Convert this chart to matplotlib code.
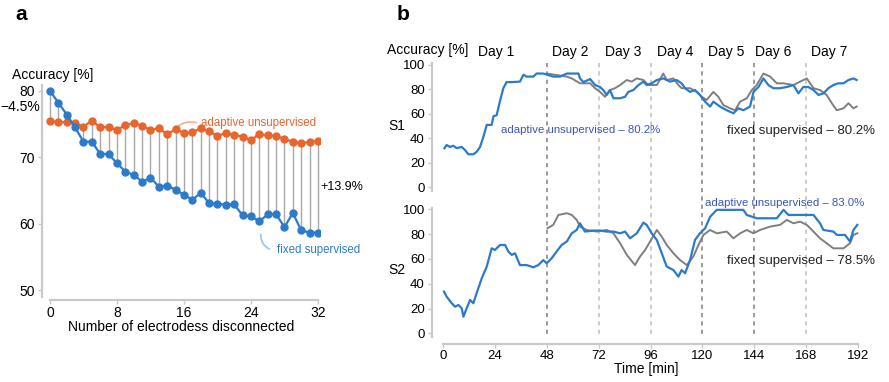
import matplotlib
matplotlib.use("Agg")
import matplotlib.pyplot as plt
from matplotlib.transforms import blended_transform_factory
from matplotlib.patches import FancyArrowPatch

plt.rcParams['font.family'] = ['Liberation Sans', 'DejaVu Sans']

# ---------------- Panel a data ----------------
electrodes = list(range(33))
adaptive_a = [75.5, 75.25, 75.35, 75.15, 74.6, 75.55, 74.5, 74.6, 74.1, 74.9, 75.1,
              74.75, 74.1, 74.4, 73.45, 74.25, 73.65, 73.75, 74.4, 73.9, 73.25,
              73.65, 73.4, 73.1, 72.6, 73.5, 73.3, 73.25, 72.75, 72.35, 72.1, 72.35, 72.5]
fixed_a = [80.0, 78.25, 76.45, 74.5, 72.35, 72.35, 70.5, 70.5, 69.1, 67.85, 67.35,
           66.35, 66.9, 65.6, 65.75, 65.1, 64.35, 63.6, 64.65, 63.1, 63.0,
           62.85, 62.9, 61.25, 61.1, 60.35, 61.4, 61.4, 59.5, 61.6, 59.0, 58.65, 58.65]
a_xticks = [0, 8, 16, 24, 32]
a_yticks = [50, 60, 70, 80]

# ---------------- Panel b data ----------------
s1_ad_t = [0.5, 1.5, 3.1, 4.6, 6.2, 8.5, 10, 11.6, 13.9, 15.4, 17, 18.5, 20.1, 22.4, 23.2,
           24.7, 26.3, 27.8, 29.3, 31.7, 35.5, 37.1, 38.6, 41.7, 43.2, 46.3, 51, 54.1,
           57.2, 62.6, 63.3, 64.9, 68, 70.3, 72.6, 74.1, 75.7, 77.2, 78.8, 81.9, 84.2,
           85.7, 88, 90.4, 92.7, 94.2, 96.5, 98.9, 101.9, 105, 108.1, 110.4, 112, 114.3,
           116.6, 118.9, 121.3, 123.6, 125.1, 128.2, 131.3, 134.4, 136.7, 139, 142.1,
           143.7, 146, 148.3, 150.6, 152.9, 156, 159.1, 162.2, 164.5, 166.8, 169.1,
           171.5, 173.8, 176.1, 178.4, 180.7, 183, 185.4, 187.7, 190, 191.5]
s1_ad_v = [31.9, 34.6, 33, 34, 32, 33, 30.5, 27, 27, 29, 33, 41, 51, 51, 58,
           59, 71, 81, 86, 86, 86.4, 92, 90.5, 90.5, 93, 93, 90.5, 90.5,
           93, 93, 89, 86, 88.5, 83.6, 82, 79.5, 75.5, 79.5, 72.8, 72.8, 74,
           78, 79.5, 83.6, 86.4, 83.6, 85, 87.7, 89, 86.4, 87.7, 85, 81, 78,
           79.5, 75.5, 70, 66, 70, 66, 63, 60.5, 64.6, 63, 66,
           78, 82, 89, 83.6, 81, 81, 82, 83.6, 76.8, 82, 82,
           79.5, 75.5, 76.8, 81, 83.6, 85, 85, 87.7, 89, 87.7]
s1_fx_t = [47.9, 57.2, 59.5, 63.3, 68, 70.3, 72.6, 74.9, 77.2, 79.5, 81.9, 85, 87.3, 89.6,
           92.7, 95, 98.9, 101.9, 103.5, 106.6, 108.9, 110.4, 114.3, 117.4, 119.7, 122,
           125.1, 127.4, 129.7, 132.8, 135.2, 137.5, 140.6, 142.9, 145.2, 148.3, 151.4,
           154.5, 157.6, 162.2, 165.3, 168.4, 171.5, 174.5, 177.6, 180, 182.3, 185.4,
           187.7, 190, 191.5]
s1_fx_v = [93, 90.5, 89, 85, 85, 81, 78, 74, 79.5, 81, 83.6, 87.7, 86.4, 89,
           87.7, 83.6, 83.6, 93, 87.7, 89, 83.6, 81, 81, 78, 74, 71.4,
           78, 74, 67.3, 64.6, 63, 70, 72.8, 79.5, 83.6, 93, 90.5,
           85, 85, 83.6, 86.4, 89, 81, 79.5, 75.5, 68.7, 63, 64.6,
           68.7, 64.6, 66]

s2_ad_t = [0.3, 1.5, 3.9, 5.4, 7, 8.5, 9.3, 10.8, 12.4, 13.9, 15.4, 17.8, 20.1, 22.4,
           23.9, 26.3, 28.6, 30.1, 31.7, 33.2, 35.5, 38.6, 41.7, 44, 46.3, 47.9, 50.2,
           52.5, 54.8, 57.2, 59.5, 61.8, 63.3, 65.6, 69.5, 72.6, 75.7, 78.8, 81.9, 84.2,
           86.5, 89.6, 92.7, 94.2, 96.5, 98.9, 101.2, 103.5, 106.6, 108.9, 110.4, 112,
           114.3, 116.6, 118.9, 121.3, 123.6, 126.7, 139, 140.6, 145.2, 154.5, 157.6,
           159.9, 171.5, 174.5, 176.1, 180.7, 182.3, 186.1, 188.4, 190, 191.8]
s2_ad_v = [33.6, 29.6, 24.2, 21.5, 22.8, 20.2, 13.4, 20.2, 26.9, 24.2, 32.3, 44.4, 53.8, 68.5,
           67.2, 71.2, 71.2, 65.9, 63.2, 64.5, 55, 55, 53.2, 55, 59, 56.5, 60.5,
           66, 71.2, 74, 80.6, 83.3, 88.7, 82, 82.8, 82.8, 82, 82, 80.6, 82,
           76.6, 80.6, 89.2, 87.4, 80.6, 75.3, 64.5, 53.8, 51, 45.7, 51, 48.4,
           59, 75.3, 80.6, 84.7, 94, 99.5, 99.5, 95.4, 92.7, 92.7, 99.5,
           95.4, 95.4, 88.7, 83.3, 82, 79.3, 79.3, 74, 83.3, 87.4]
s2_fx_t = [48.3, 50.9, 53.3, 57.2, 59.5, 61.8, 63.3, 66.4, 71.1, 75.7, 78.8, 81.9, 85,
           88.8, 91.1, 93.5, 95.8, 98.9, 101.2, 103.5, 106.6, 109.7, 112.8, 115.8,
           118.2, 120.5, 123.6, 126.7, 131.3, 134.4, 137.5, 140.6, 143.7, 146.7, 151.4,
           156, 159.1, 162.2, 165.3, 168.4, 171.5, 174.5, 177.6, 180.7, 185.4, 188.4,
           190, 191.8]
s2_fx_v = [84.7, 87.4, 95.4, 96.8, 95.4, 91.4, 86, 83.3, 82, 83.3, 80.6, 72.6, 63.2,
           55, 61.8, 67.2, 74, 83.3, 77.9, 71.2, 64.5, 59, 55, 61.8,
           71.2, 79.3, 83.3, 80.6, 82, 76.6, 80.6, 83.3, 80.6, 83.3, 86,
           87.4, 91.4, 88.7, 90, 87.4, 82, 76.6, 72.6, 68.5, 68.5, 72.6,
           79.3, 80.6]

b_xticks = [0, 24, 48, 72, 96, 120, 144, 168, 192]
b_yticks = [0, 20, 40, 60, 80, 100]
day_labels = ["Day 1", "Day 2", "Day 3", "Day 4", "Day 5", "Day 6", "Day 7"]
day_centers = [24.4, 58.7, 83.3, 107.4, 131, 153, 179]
day_bounds = [48, 72, 96, 120, 144, 168]
dark_bounds = [48, 120, 144]

ORANGE = '#e8652b'
BLUE = '#2c7bcb'
TEXTBLUE = '#3a56b8'
GRAY = '#7f7f7f'
SPINE = '#c9c9c9'
FS = 10

W, H = 889, 382
fig = plt.figure(figsize=(W / 100, H / 100), dpi=100)


def frac(x0, y0, x1, y1):
    return [x0 / W, 1 - y1 / H, (x1 - x0) / W, (y1 - y0) / H]


def style(ax):
    for s in ['top', 'right']:
        ax.spines[s].set_visible(False)
    for s in ['left', 'bottom']:
        ax.spines[s].set_color(SPINE)
        ax.spines[s].set_linewidth(1.6)
    ax.tick_params(colors=SPINE, labelcolor='black', length=3, width=1, labelsize=FS)


# ---------------- Panel a ----------------
axa = fig.add_axes(frac(41.6, 85, 320.5, 300))
style(axa)
axa.set_xlim(-1.0, 32.3)
axa.set_ylim(48.5, 80.9)
axa.spines['bottom'].set_bounds(0, 32)
axa.spines['left'].set_bounds(49.0, 80.9)
axa.vlines(electrodes, fixed_a, adaptive_a, color='#a8a8a8', lw=1.0, zorder=1)
axa.plot(electrodes, adaptive_a, '-o', color=ORANGE, ms=5, lw=1.6, zorder=3)
axa.plot(electrodes, fixed_a, '-o', color=BLUE, ms=5, lw=1.6, zorder=3)
axa.set_xticks(a_xticks)
axa.set_yticks(a_yticks)
axa.tick_params(axis='x', pad=1)
axa.tick_params(axis='y', pad=2)
axa.set_xlabel("Number of electrodess disconnected", fontsize=FS, labelpad=0)
fig.text(12 / W, 1 - 75 / H, "Accuracy [%]", fontsize=FS, va='center', ha='left')
fig.text(15 / W, 1 - 15 / H, "a", fontsize=15, fontweight='bold', va='center', ha='left')
axa.text(-1.2, adaptive_a[0] - (adaptive_a[0] - fixed_a[0]) * 0.4 + 0.3,
         "\u22124.5%", fontsize=FS, ha='right', va='center', clip_on=False)
axa.text(32.3, (adaptive_a[-1] + fixed_a[-1]) / 2, "+13.9%", fontsize=9,
         ha='left', va='center', clip_on=False)
axa.text(18.0, 75.2, "adaptive unsupervised", color=ORANGE, fontsize=8.3,
         ha='left', va='center')
axa.add_patch(FancyArrowPatch((15.0, 74.4), (17.8, 75.1), arrowstyle='-',
                              connectionstyle='arc3,rad=-0.3', color='#f2b08f', lw=1.2))
axa.text(27.1, 56.0, "fixed supervised", color=BLUE, fontsize=8.3,
         ha='left', va='center')
axa.add_patch(FancyArrowPatch((25.2, 58.8), (26.5, 56.0), arrowstyle='-',
                              connectionstyle='arc3,rad=0.4', color='#9cc3ea', lw=1.2))

# ---------------- Panel b ----------------
ax1 = fig.add_axes(frac(431.7, 61.3, 859.9, 191))
ax2 = fig.add_axes(frac(431.7, 208, 859.9, 344))
for ax in (ax1, ax2):
    style(ax)
    ax.set_facecolor('none')
    ax.set_xlim(-5.4, 193)
    ax.set_yticks(b_yticks)
    ax.tick_params(axis='y', labelsize=9.5, pad=2)
ax1.set_ylim(-3, 103)
ax2.set_ylim(-8.6, 101)
ax1.spines['bottom'].set_visible(False)
ax1.tick_params(axis='x', bottom=False, labelbottom=False)
ax1.spines['left'].set_bounds(-3, 102)
ax2.spines['left'].set_bounds(-3, 101)
ax2.spines['bottom'].set_bounds(0, 192)
ax2.set_xticks(b_xticks)
ax2.tick_params(axis='x', labelsize=9.5, pad=1)
ax2.set_xlabel("Time [min]", fontsize=FS, labelpad=0)

tr = blended_transform_factory(ax2.transData, fig.transFigure)
for b in day_bounds:
    c = '#8a8a8a' if b in dark_bounds else '#c4c4c4'
    ln = plt.Line2D([b, b], [1 - 63 / H, 1 - 336 / H], transform=tr, color=c,
                    lw=1.2, ls=(0, (2.5, 2.5)), zorder=-1)
    fig.add_artist(ln)

ax1.plot(s1_fx_t, s1_fx_v, color=GRAY, lw=1.4, zorder=2)
ax1.plot(s1_ad_t, s1_ad_v, color=BLUE, lw=1.6, zorder=3)
ax2.plot(s2_fx_t, s2_fx_v, color=GRAY, lw=1.4, zorder=2)
ax2.plot(s2_ad_t, s2_ad_v, color=BLUE, lw=1.6, zorder=3)

trd = blended_transform_factory(ax1.transData, fig.transFigure)
for lab, c in zip(day_labels, day_centers):
    ax1.text(c, 1 - 52 / H, lab, transform=trd, fontsize=FS, ha='center', va='center')
fig.text(387 / W, 1 - 50 / H, "Accuracy [%]", fontsize=FS, va='center', ha='left')
fig.text(397 / W, 1 - 15 / H, "b", fontsize=15, fontweight='bold', va='center', ha='left')
fig.text(388 / W, 1 - 126 / H, "S1", fontsize=FS, va='center', ha='left')
fig.text(388 / W, 1 - 270 / H, "S2", fontsize=FS, va='center', ha='left')

ax1.text(26.5, 47, "adaptive unsupervised \u2013 80.2%", color=TEXTBLUE, fontsize=8.2,
         ha='left', va='center')
ax1.text(131.5, 46, "fixed supervised \u2013 80.2%", color='#222222', fontsize=9.5,
         ha='left', va='center', clip_on=False)
ax2.text(121, 105, "adaptive unsupervised \u2013 83.0%", color=TEXTBLUE, fontsize=8.2,
         ha='left', va='center', clip_on=False)
ax2.text(131.5, 58, "fixed supervised \u2013 78.5%", color='#222222', fontsize=9.5,
         ha='left', va='center', clip_on=False)

fig.savefig("out.png", dpi=100)
